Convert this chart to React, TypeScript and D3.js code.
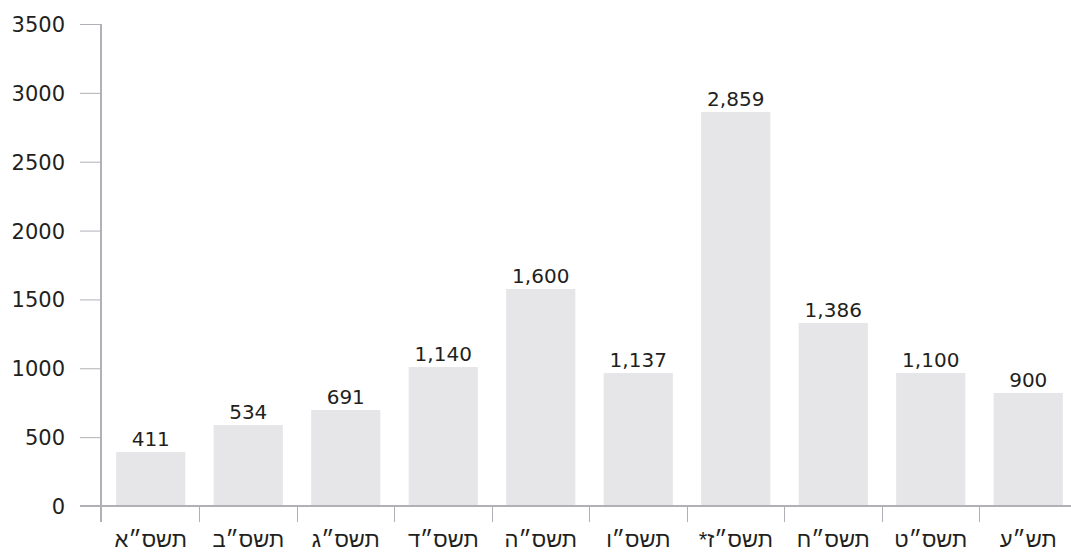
import React, { useEffect, useRef } from 'react';
import * as d3 from 'd3';

const categories = ['תשס״א', 'תשס״ב', 'תשס״ג', 'תשס״ד', 'תשס״ה', 'תשס״ו', 'תשס״ז*', 'תשס״ח', 'תשס״ט', 'תש״ע'];
// bar heights as drawn in the picture
const barValues = [392, 588, 697, 1009, 1576, 966, 2861, 1329, 966, 821];
// labels printed above the bars
const valueLabels = ['411', '534', '691', '1,140', '1,600', '1,137', '2,859', '1,386', '1,100', '900'];
const yTicks = [0, 500, 1000, 1500, 2000, 2500, 3000, 3500];

const App: React.FC = () => {
  const ref = useRef<SVGSVGElement>(null);

  useEffect(() => {
    if (!ref.current) return;
    const svg = d3.select(ref.current);
    svg.selectAll('*').remove();

    const font = "'DejaVu Sans', 'Liberation Sans', sans-serif";
    const hebFont = "'Liberation Sans', 'DejaVu Sans', sans-serif";
    const axisColor = '#b0b1b6';
    const textColor = '#231f20';

    const x = d3.scaleBand<string>()
      .domain(categories)
      .range([102, 1077])
      .paddingInner(0.29)
      .paddingOuter(0.145);
    const y = d3.scaleLinear().domain([0, 3500]).range([506, 24]);
    const gap = (x.step() - x.bandwidth()) / 2;

    // bars
    svg.append('g')
      .selectAll('rect')
      .data(barValues)
      .enter()
      .append('rect')
      .attr('x', (d, i) => x(categories[i])!)
      .attr('y', d => y(d))
      .attr('width', x.bandwidth())
      .attr('height', d => y(0) - y(d))
      .attr('fill', '#e6e6e8');

    // value labels
    svg.append('g')
      .selectAll('text')
      .data(barValues)
      .enter()
      .append('text')
      .attr('x', (d, i) => x(categories[i])! + x.bandwidth() / 2)
      .attr('y', d => y(d) - 6)
      .attr('text-anchor', 'middle')
      .attr('font-family', font)
      .attr('font-size', '20px')
      .attr('fill', textColor)
      .text((d, i) => valueLabels[i]);

    // y axis
    svg.append('line')
      .attr('x1', 101).attr('x2', 101)
      .attr('y1', y(3500)).attr('y2', 522)
      .attr('stroke', axisColor).attr('stroke-width', 2);

    const yt = svg.append('g').selectAll('g').data(yTicks).enter().append('g');
    yt.append('line')
      .attr('x1', 80).attr('x2', 101)
      .attr('y1', d => y(d) + 0.5).attr('y2', d => y(d) + 0.5)
      .attr('stroke', axisColor).attr('stroke-width', 1);
    yt.append('text')
      .attr('x', 65)
      .attr('y', d => y(d) + 8)
      .attr('text-anchor', 'end')
      .attr('font-family', font)
      .attr('font-size', '21px')
      .attr('fill', textColor)
      .text(d => String(d));

    // x axis
    svg.append('line')
      .attr('x1', 80).attr('x2', 1071)
      .attr('y1', 506).attr('y2', 506)
      .attr('stroke', axisColor).attr('stroke-width', 2);

    svg.append('g')
      .selectAll('line')
      .data(categories.slice(1))
      .enter()
      .append('line')
      .attr('x1', d => Math.round(x(d)! - gap) + 0.5)
      .attr('x2', d => Math.round(x(d)! - gap) + 0.5)
      .attr('y1', 506).attr('y2', 522)
      .attr('stroke', axisColor).attr('stroke-width', 1);

    svg.append('g')
      .selectAll('text')
      .data(categories)
      .enter()
      .append('text')
      .attr('x', d => x(d)! + x.bandwidth() / 2)
      .attr('y', 547)
      .attr('text-anchor', 'middle')
      .attr('direction', 'rtl')
      .attr('font-family', hebFont)
      .attr('font-size', '22px')
      .attr('fill', textColor)
      .text(d => d);
  }, []);

  return (
    <svg
      ref={ref}
      width={1071}
      height={552}
      style={{ position: 'absolute', left: 0, top: 0, background: '#fff' }}
    />
  );
};

export default App;
